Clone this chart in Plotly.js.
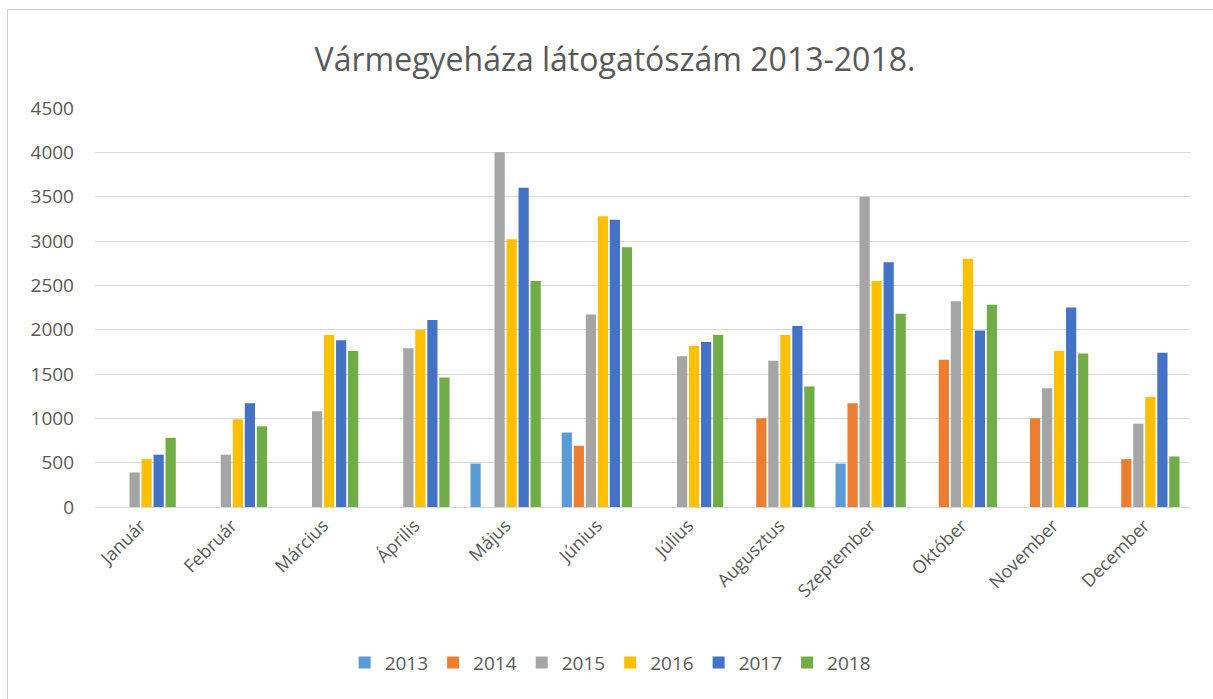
<!DOCTYPE html>
<html>
<head>
<meta charset="utf-8">
<script src="https://cdn.plot.ly/plotly-3.0.1.min.js"></script>
<style>
  html, body { margin: 0; padding: 0; background: #ffffff; }
  #chart { width: 1213px; height: 699px; }
  #frame { position: absolute; left: 7px; top: 9px; width: 1220px; height: 700px;
           border-top: 1px solid #d0d0d0; border-left: 1px solid #d0d0d0; pointer-events: none; }
</style>
</head>
<body>
<div id="chart"></div>
<div id="frame"></div>
<script>
const months = ["Január", "Február", "Március", "Április", "Május", "Június",
                "Július", "Augusztus", "Szeptember", "Október", "November", "December"];
const years = ["2013", "2014", "2015", "2016", "2017", "2018"];
const v2013 = [null, null, null, null, 490, 840, null, null, 490, null, null, null];
const v2014 = [null, null, null, null, null, 690, null, 1000, 1170, 1660, 1000, 540];
const v2015 = [390, 590, 1080, 1790, 4000, 2170, 1700, 1650, 3500, 2320, 1340, 940];
const v2016 = [540, 990, 1940, 2000, 3020, 3280, 1820, 1940, 2550, 2800, 1760, 1240];
const v2017 = [590, 1170, 1880, 2110, 3600, 3240, 1860, 2040, 2760, 1990, 2250, 1740];
const v2018 = [780, 910, 1760, 1460, 2550, 2930, 1940, 1360, 2180, 2280, 1730, 570];
const seriesValues = [v2013, v2014, v2015, v2016, v2017, v2018];
const colors = ["#5B9BD5", "#ED7D31", "#A5A5A5", "#FFC000", "#4472C4", "#70AD47"];

const fontFam = "Open Sans, sans-serif";
const grey = "#595959";

const traces = years.map((y, i) => ({
  type: "bar",
  name: y,
  x: months,
  y: seriesValues[i],
  marker: { color: colors[i] },
  hoverinfo: "x+y+name"
}));

const layout = {
  width: 1213, height: 699,
  margin: { l: 95, r: 23, t: 108, b: 192 },
  paper_bgcolor: "#ffffff",
  plot_bgcolor: "#ffffff",
  barmode: "group",
  bargap: 0.21,
  bargroupgap: 0.15,
  title: {
    text: "Vármegyeháza látogatószám 2013-2018.",
    font: { family: fontFam, size: 32, color: grey },
    x: 0.507, xref: "container", xanchor: "center",
    y: 0.915, yref: "container", yanchor: "middle"
  },
  xaxis: {
    type: "category",
    tickangle: -45,
    tickfont: { family: fontFam, size: 18, color: grey },
    showgrid: false,
    showline: true,
    linecolor: "#d9d9d9",
    linewidth: 1,
    ticks: "",
    automargin: false
  },
  yaxis: {
    range: [0, 4500],
    tick0: 0,
    dtick: 500,
    tickfont: { family: fontFam, size: 19, color: grey },
    showgrid: true,
    gridcolor: "#d9d9d9",
    gridwidth: 1,
    zeroline: true,
    zerolinecolor: "#d9d9d9",
    showline: false,
    ticks: "",
    ticklabelstandoff: 20,
    automargin: false
  },
  showlegend: true,
  legend: {
    orientation: "h",
    xref: "container", yref: "container",
    x: 0.503, xanchor: "center",
    y: 0.052, yanchor: "middle",
    font: { family: fontFam, size: 19, color: grey },
    itemwidth: 30,
    traceorder: "normal"
  }
};

Plotly.newPlot("chart", traces, layout, { displayModeBar: false, staticPlot: false });
</script>
</body>
</html>
